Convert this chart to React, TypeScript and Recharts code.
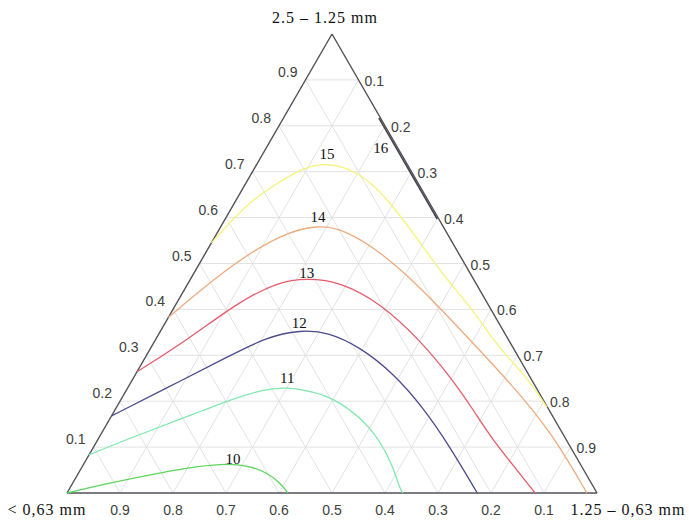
import { ScatterChart, Scatter, XAxis, YAxis, ReferenceLine } from "recharts";

// ternary helpers: a = top (2.5 – 1.25 mm), b = right (1.25 – 0,63 mm)
const SQ = Math.sqrt(3) / 2;
const toXY = (a: number, b: number) => ({ x: b + a / 2, y: a * SQ });

const ticks = [0.1, 0.2, 0.3, 0.4, 0.5, 0.6, 0.7, 0.8, 0.9];
const tickLabels = ["0.1", "0.2", "0.3", "0.4", "0.5", "0.6", "0.7", "0.8", "0.9"];
const vertexLabels = ["2.5 – 1.25 mm", "< 0,63 mm", "1.25 – 0,63 mm"];

const levels = [10, 11, 12, 13, 14, 15, 16];
const colors = ["#5cd65c", "#7fe8b0", "#4b4b8d", "#e45c6c", "#eeaa7c", "#f4f47c", "#45454f"];

// contour points as [top, right] fractions
const curve10 = [[0, 0], [0.022, 0.07], [0.044, 0.153], [0.059, 0.222], [0.064, 0.27], [0.06, 0.31], [0.045, 0.355], [0.022, 0.391], [0, 0.417]];
const curve11 = [[0.083, 0], [0.111, 0.044], [0.166, 0.143], [0.203, 0.206], [0.226, 0.258], [0.231, 0.3], [0.22, 0.355], [0.207, 0.398], [0.166, 0.47], [0.115, 0.533], [0.057, 0.587], [0.007, 0.625], [0, 0.634]];
const curve12 = [[0.168, 0], [0.229, 0.074], [0.296, 0.154], [0.34, 0.207], [0.355, 0.263], [0.351, 0.316], [0.318, 0.394], [0.261, 0.485], [0.187, 0.578], [0.1, 0.673], [0, 0.774]];
const curve13 = [[0.264, 0], [0.333, 0.06], [0.414, 0.114], [0.46, 0.167], [0.468, 0.22], [0.46, 0.286], [0.414, 0.384], [0.333, 0.5], [0.246, 0.605], [0.181, 0.676], [0.115, 0.746], [0.05, 0.824], [0, 0.883]];
const curve14 = [[0.383, 0], [0.501, 0.063], [0.566, 0.125], [0.584, 0.181], [0.575, 0.234], [0.523, 0.334], [0.442, 0.451], [0.34, 0.585], [0.24, 0.716], [0.137, 0.843], [0, 0.981]];
const curve15 = [[0.545, 0], [0.638, 0.026], [0.682, 0.067], [0.706, 0.088], [0.721, 0.131], [0.701, 0.198], [0.645, 0.281], [0.536, 0.404], [0.464, 0.485], [0.399, 0.567], [0.318, 0.654], [0.253, 0.741], [0.187, 0.812]];
const curve16 = [[0.817, 0.18], [0.747, 0.25], [0.677, 0.32], [0.597, 0.4]];
const curves = [curve10, curve11, curve12, curve13, curve14, curve15, curve16];

// where each level number is written
const levelLabelPos = [[0.074, 0.276], [0.251, 0.29], [0.37, 0.253], [0.479, 0.213], [0.601, 0.173], [0.739, 0.121], [0.752, 0.216]];

const SANS = "'Liberation Sans', Arial, sans-serif";
const SERIF = "'Liberation Serif', 'Times New Roman', serif";

const textShape = (anchor: string, dx: number, dy: number, font: string, size: number, fill: string, spacing = 0) =>
  (props: any) => (
    <text
      x={props.cx + dx}
      y={props.cy + dy}
      textAnchor={anchor}
      dominantBaseline="central"
      style={{ fontFamily: font, fontSize: size, letterSpacing: spacing }}
      fill={fill}
    >
      {props.payload.label}
    </text>
  );

const noDot = () => <g />;

export default function App() {
  const grid: { p1: { x: number; y: number }; p2: { x: number; y: number } }[] = [];
  ticks.forEach((t) => {
    grid.push({ p1: toXY(t, 0), p2: toXY(t, 1 - t) }); // const top
    grid.push({ p1: toXY(0, t), p2: toXY(1 - t, t) }); // const right
    grid.push({ p1: toXY(0, 1 - t), p2: toXY(1 - t, 0) }); // const left
  });
  const edges = [
    { p1: toXY(0, 0), p2: toXY(1, 0) },
    { p1: toXY(1, 0), p2: toXY(0, 1) },
    { p1: toXY(0, 0), p2: toXY(0, 1) },
  ];

  const leftTicks = ticks.map((t, i) => ({ ...toXY(t, 0), label: tickLabels[i] }));
  const rightTicks = ticks.map((t, i) => ({ ...toXY(1 - t, t), label: tickLabels[i] }));
  const bottomTicks = ticks.map((t, i) => ({ ...toXY(0, 1 - t), label: tickLabels[i] }));
  const levelTexts = levels.map((l, i) => ({ ...toXY(levelLabelPos[i][0], levelLabelPos[i][1]), label: String(l) }));

  return (
    <div style={{ position: "absolute", left: 0, top: 0, width: 689, height: 521 }}>
      <ScatterChart width={689} height={521} margin={{ top: 34, right: 92, bottom: 28, left: 67 }}>
        <XAxis type="number" dataKey="x" domain={[0, 1]} hide />
        <YAxis type="number" dataKey="y" domain={[0, SQ]} hide />
        {grid.map((g, i) => (
          <ReferenceLine key={"g" + i} segment={[g.p1, g.p2]} stroke="#e2e2e2" strokeWidth={1} ifOverflow="visible" />
        ))}
        {edges.map((g, i) => (
          <ReferenceLine key={"e" + i} segment={[g.p1, g.p2]} stroke="#505058" strokeWidth={1.4} ifOverflow="visible" />
        ))}
        {curves.map((c, i) => (
          <Scatter
            key={"c" + i}
            data={c.map((p) => toXY(p[0], p[1]))}
            fill={colors[i]}
            line={{ stroke: colors[i], strokeWidth: i === 6 ? 1.6 : 1.3 }}
            lineJointType="basis"
            shape={noDot}
            isAnimationActive={false}
          />
        ))}
        <Scatter data={leftTicks} shape={textShape("end", -8, -8, SANS, 14, "#404040")} isAnimationActive={false} />
        <Scatter data={rightTicks} shape={textShape("start", 6, 1, SANS, 14, "#404040")} isAnimationActive={false} />
        <Scatter data={bottomTicks} shape={textShape("middle", 0, 17, SANS, 14, "#404040")} isAnimationActive={false} />
        <Scatter data={levelTexts} shape={textShape("middle", 0, 0, SERIF, 15, "#111")} isAnimationActive={false} />
        <Scatter data={[{ ...toXY(1, 0), label: vertexLabels[0] }]} shape={textShape("middle", -7, -17, SERIF, 16, "#111", 1)} isAnimationActive={false} />
        <Scatter data={[{ ...toXY(0, 0), label: vertexLabels[1] }]} shape={textShape("middle", -20, 16, SERIF, 16, "#111", 1)} isAnimationActive={false} />
        <Scatter data={[{ ...toXY(0, 1), label: vertexLabels[2] }]} shape={textShape("middle", 31, 16, SERIF, 16, "#111", 1)} isAnimationActive={false} />
      </ScatterChart>
    </div>
  );
}
